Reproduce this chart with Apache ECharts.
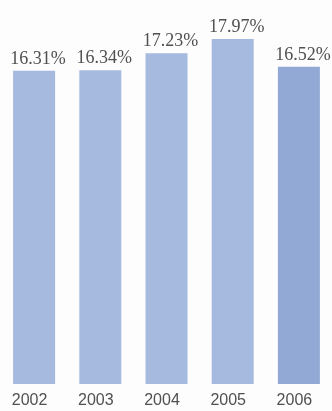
<!DOCTYPE html>
<html>
<head>
<meta charset="utf-8">
<script src="https://cdn.jsdelivr.net/npm/echarts@6/dist/echarts.min.js"></script>
<style>
  html, body { margin: 0; padding: 0; background: #fdfdfd; }
  #chart { width: 332px; height: 411px; }
</style>
</head>
<body>
<div id="chart"></div>
<script>
// Annual share, 2002–2006 (percent)
const years = ['2002', '2003', '2004', '2005', '2006'];
const shares = [16.31, 16.34, 17.23, 17.97, 16.52];

const baseColor = '#a6b9df';
const latestColor = '#93a9d5';
const textColor = '#505050';

const chart = echarts.init(document.getElementById('chart'));
chart.setOption({
  backgroundColor: '#fdfdfd',
  animation: false,
  grid: { left: 1, right: 0, top: 0, bottom: 27 },
  xAxis: {
    type: 'category',
    data: years,
    axisLine: { show: false },
    axisTick: { show: false },
    axisLabel: {
      color: textColor,
      fontFamily: '"Liberation Sans", Arial, sans-serif',
      fontSize: 16,
      margin: 9,
      padding: [0, 9, 0, 0]
    }
  },
  yAxis: {
    type: 'value',
    min: 0,
    max: 20,
    show: false
  },
  series: [{
    type: 'bar',
    barWidth: 42,
    data: shares.map((v, i) => ({
      value: v,
      itemStyle: { color: i === shares.length - 1 ? latestColor : baseColor }
    })),
    label: {
      show: true,
      position: 'top',
      distance: 3,
      offset: [4, 0],
      formatter: p => p.value.toFixed(2) + '%',
      color: textColor,
      fontFamily: '"Liberation Serif", "DejaVu Serif", serif',
      fontSize: 18
    }
  }]
});
</script>
</body>
</html>
